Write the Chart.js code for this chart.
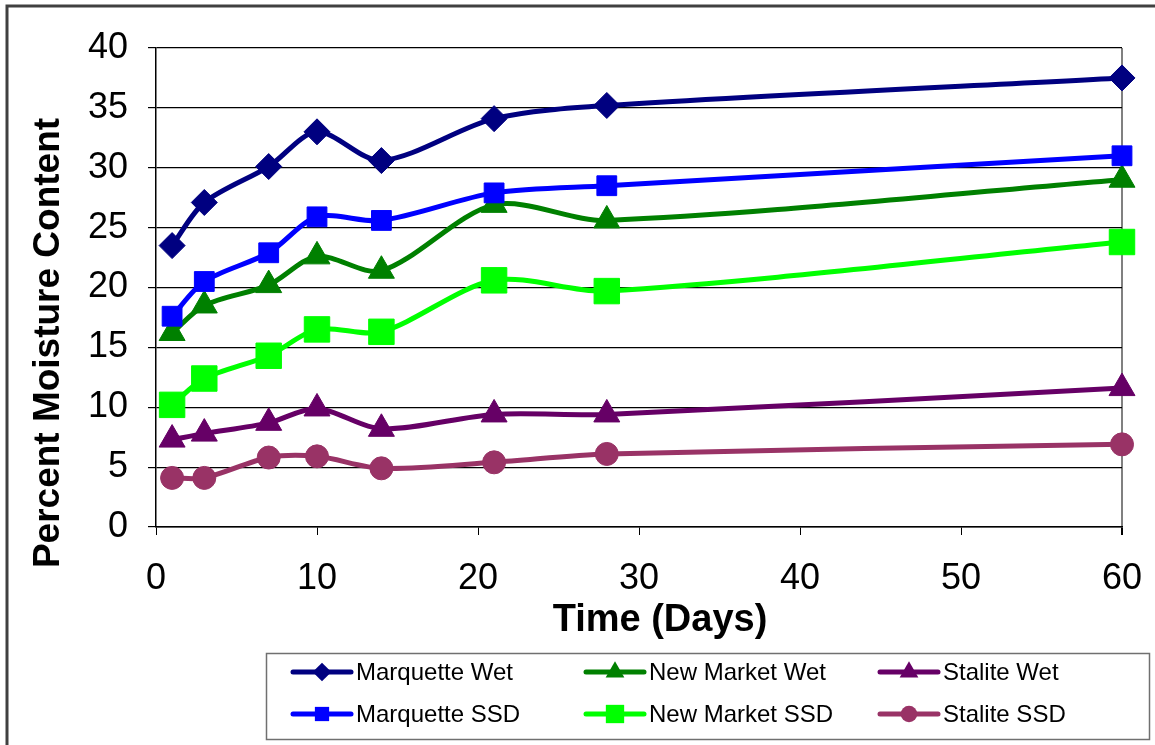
<!DOCTYPE html>
<html>
<head>
<meta charset="utf-8">
<title>Percent Moisture Content</title>
<script src="https://cdn.jsdelivr.net/npm/chart.js@4.4.1/dist/chart.umd.min.js"></script>
<style>
html, body { margin: 0; padding: 0; background: #fff; }
#wrap { width: 1155px; height: 745px; }
</style>
</head>
<body>
<div id="wrap"><canvas id="moisture-chart" width="1155" height="745"></canvas></div>
<script>
// sampling days and measured moisture (%)
var days = [1, 3, 7, 10, 14, 21, 28, 60];
var marquetteWet = [23.5, 27.1, 30.1, 33.0, 30.6, 34.1, 35.2, 37.5];
var marquetteSSD = [17.6, 20.5, 22.9, 25.9, 25.6, 27.9, 28.5, 31.0];
var newMarketWet = [16.2, 18.5, 20.2, 22.6, 21.4, 26.9, 25.6, 29.0];
var newMarketSSD = [10.2, 12.4, 14.3, 16.5, 16.3, 20.6, 19.7, 23.8];
var staliteWet = [7.3, 7.8, 8.7, 9.9, 8.2, 9.4, 9.4, 11.6];
var staliteSSD = [4.1, 4.1, 5.8, 5.9, 4.9, 5.4, 6.1, 6.9];

var yTicks = [0, 5, 10, 15, 20, 25, 30, 35, 40];
var xTicks = [0, 10, 20, 30, 40, 50, 60];

var FONT = '"Liberation Sans", Arial, sans-serif';

function points(values) {
    return days.map(function (d, i) { return { x: d, y: values[i] }; });
}

function series(label, values, color, style, radius) {
    return {
        label: label,
        data: points(values),
        borderColor: color,
        backgroundColor: color,
        borderWidth: 5,
        tension: 0.3,
        pointStyle: style,
        pointRadius: radius,
        pointHoverRadius: radius,
        pointBorderWidth: 1,
        pointBorderColor: color,
        pointBackgroundColor: color,
        clip: false
    };
}

// same geometry chart.js uses for its point styles
function drawMarker(ctx, style, x, y, r) {
    ctx.beginPath();
    if (style === 'circle') {
        ctx.arc(x, y, r, 0, Math.PI * 2);
    } else if (style === 'rect') {
        var s = Math.SQRT1_2 * r;
        ctx.rect(x - s, y - s, 2 * s, 2 * s);
    } else if (style === 'rectRot') {
        ctx.moveTo(x - r, y);
        ctx.lineTo(x, y - r);
        ctx.lineTo(x + r, y);
        ctx.lineTo(x, y + r);
        ctx.closePath();
    } else if (style === 'triangle') {
        var a = 0;
        ctx.moveTo(x + Math.sin(a) * r, y - Math.cos(a) * r);
        a += Math.PI * 2 / 3;
        ctx.lineTo(x + Math.sin(a) * r, y - Math.cos(a) * r);
        a += Math.PI * 2 / 3;
        ctx.lineTo(x + Math.sin(a) * r, y - Math.cos(a) * r);
        ctx.closePath();
    }
    ctx.fill();
}

var frame = {
    id: 'frame',
    beforeDraw: function (chart) {
        var ctx = chart.ctx;
        ctx.save();
        ctx.fillStyle = '#fff';
        ctx.fillRect(0, 0, chart.width, chart.height);
        ctx.restore();
    },
    afterDraw: function (chart) {
        var ctx = chart.ctx;
        ctx.save();

        // outer border
        ctx.strokeStyle = '#404040';
        ctx.lineWidth = 3;
        ctx.beginPath();
        ctx.moveTo(7, chart.height);
        ctx.lineTo(7, 6);
        ctx.lineTo(chart.width, 6);
        ctx.stroke();

        // axis titles
        ctx.fillStyle = '#000';
        ctx.textAlign = 'center';
        ctx.textBaseline = 'middle';
        ctx.font = 'bold 38px ' + FONT;
        ctx.fillText('Time (Days)', 660, 621);
        ctx.save();
        ctx.translate(49, 343);
        ctx.rotate(-Math.PI / 2);
        ctx.font = 'bold 37px ' + FONT;
        ctx.fillText('Percent Moisture Content', 0, 0);
        ctx.restore();

        // legend, three columns by two rows
        ctx.strokeStyle = '#707070';
        ctx.lineWidth = 1.5;
        ctx.strokeRect(266.5, 653.5, 883, 86);
        var colX = [293, 586, 880];
        var rowY = [672, 714];
        ctx.font = '24px ' + FONT;
        ctx.textAlign = 'left';
        chart.data.datasets.forEach(function (ds, i) {
            var x = colX[Math.floor(i / 2)];
            var y = rowY[i % 2];
            ctx.strokeStyle = ds.borderColor;
            ctx.lineWidth = 5;
            ctx.lineCap = 'round';
            ctx.beginPath();
            ctx.moveTo(x, y);
            ctx.lineTo(x + 58, y);
            ctx.stroke();
            ctx.fillStyle = ds.borderColor;
            drawMarker(ctx, ds.pointStyle, x + 29, y, ds.pointRadius * 0.72);
            ctx.fillStyle = '#000';
            ctx.fillText(ds.label, x + 63, y + 1);
        });
        ctx.restore();
    }
};

var ctx = document.getElementById('moisture-chart').getContext('2d');
var moistureChart = new Chart(ctx, {
    type: 'line',
    data: {
        datasets: [
            series('Marquette Wet', marquetteWet, '#000080', 'rectRot', 13),
            series('Marquette SSD', marquetteSSD, '#0000FF', 'rect', 14),
            series('New Market Wet', newMarketWet, '#008000', 'triangle', 15),
            series('New Market SSD', newMarketSSD, '#00FF00', 'rect', 18),
            series('Stalite Wet', staliteWet, '#660066', 'triangle', 15),
            series('Stalite SSD', staliteSSD, '#993366', 'circle', 11.5)
        ]
    },
    options: {
        responsive: false,
        animation: false,
        layout: { padding: { top: 48, right: 33, left: 0, bottom: 100 } },
        plugins: {
            legend: { display: false },
            tooltip: { enabled: false }
        },
        scales: {
            x: {
                type: 'linear',
                min: 0,
                max: 60,
                afterBuildTicks: function (scale) {
                    scale.ticks = xTicks.map(function (v) { return { value: v }; });
                },
                afterFit: function (scale) {
                    scale.height = 745 - 100 - 527;
                    scale.paddingLeft = 0;
                    scale.paddingRight = 0;
                },
                grid: {
                    drawOnChartArea: true,
                    color: function (c) { return c.tick && c.tick.value === 60 ? '#808080' : 'rgba(0,0,0,0)'; },
                    lineWidth: function (c) { return c.tick && c.tick.value === 60 ? 2 : 1; },
                    tickColor: '#000',
                    tickLength: 8
                },
                border: { color: '#000', width: 1.5 },
                ticks: {
                    color: '#000',
                    padding: 22,
                    maxRotation: 0,
                    font: { family: FONT, size: 36 }
                }
            },
            y: {
                min: 0,
                max: 40,
                afterBuildTicks: function (scale) {
                    scale.ticks = yTicks.map(function (v) { return { value: v }; });
                },
                afterFit: function (scale) {
                    scale.width = 156;
                    scale.paddingTop = 0;
                    scale.paddingBottom = 0;
                },
                grid: {
                    color: '#000',
                    lineWidth: 1.2,
                    tickColor: '#000',
                    tickLength: 8
                },
                border: { color: '#000', width: 1.5 },
                ticks: {
                    color: '#000',
                    padding: 20,
                    font: { family: FONT, size: 36 }
                }
            }
        }
    },
    plugins: [frame]
});
</script>
</body>
</html>
